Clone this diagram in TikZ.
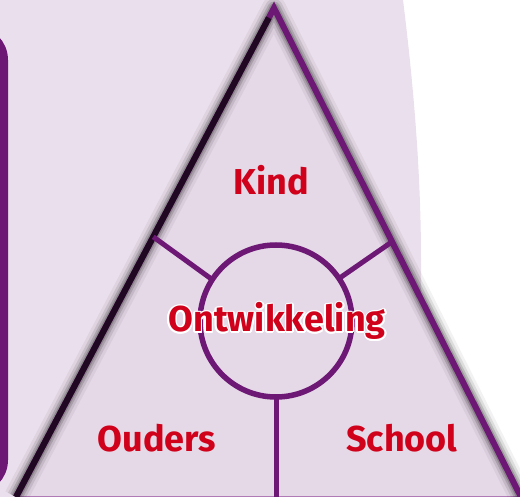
\documentclass[tikz,border=0pt]{standalone}
\usepackage{fontspec}
\setmainfont{Fira Sans}
\usepackage[copies]{contour}
\usetikzlibrary{calc}
\definecolor{bgcolor}{RGB}{234,223,236}
\definecolor{trianglecolor}{RGB}{229,216,231}
\definecolor{edgecolor}{RGB}{108,24,116}
\definecolor{darkedgecolor}{RGB}{32,8,34}
\definecolor{basecolor}{RGB}{176,122,182}
\definecolor{labelcolor}{RGB}{208,2,27}
\contourlength{1.6pt}
\contournumber{12}

\begin{document}
\begin{tikzpicture}[
    x=1pt, y=-1pt,
    partlabel/.style={text=labelcolor, font=\fontsize{36}{36}\selectfont\bfseries, inner sep=0pt, anchor=base},
    spoke/.style={draw=edgecolor, line width=5pt},
    ring/.style={circle, draw=edgecolor, line width=5.5pt, minimum size=152pt, inner sep=0pt, outer sep=0pt}
]
\useasboundingbox (0,0) rectangle (520,497);

% Background
\fill[bgcolor] (0,0) -- (403,0) .. controls (413,80) and (421,170) .. (421,260) -- (421,497) -- (0,497) -- cycle;
\draw[edgecolor, line width=8pt, rounded corners=30pt] (-60,30) rectangle (4,490);

% Triangle corners
\coordinate (apex) at (274,8);
\coordinate (bl) at (16,497);
\coordinate (br) at (521,497);

% Triangle
\fill[trianglecolor] (bl) -- (apex) -- (br) -- cycle;
\draw[basecolor, line width=2.5pt] (bl) -- (br);
\foreach \w/\o in {24/0.05, 18/0.09, 13/0.14, 9/0.18}
  \draw[black, opacity=\o, line width=\w pt, line join=round, shift={(8,5)}] (bl) -- (apex) -- (br);
\draw[edgecolor, line width=6pt, line join=miter] (bl) -- (apex) -- (br);
\draw[darkedgecolor, line width=6pt] (bl) -- ($(apex)!0.02!(bl)$);

% Centre circle and spokes
\node[ring] (dev) at (276,321) {};
\coordinate (lspoke) at ($(apex)!0.468!(bl)$);
\coordinate (rspoke) at ($(apex)!0.478!(br)$);
\draw[spoke] (dev.147) -- (lspoke);
\draw[spoke] (dev.34) -- (rspoke);
\draw[spoke] (dev.south) -- (dev.south |- bl);

% Labels
\node[partlabel] (kind) at (271,195) {Kind};
\node[partlabel] (ontw) at (277,332) {\contour{white}{Ontwikkeling}};
\node[partlabel] (ouders) at (157,451) {Ouders};
\node[partlabel] (school) at (402,451) {School};

\end{tikzpicture}
\end{document}
